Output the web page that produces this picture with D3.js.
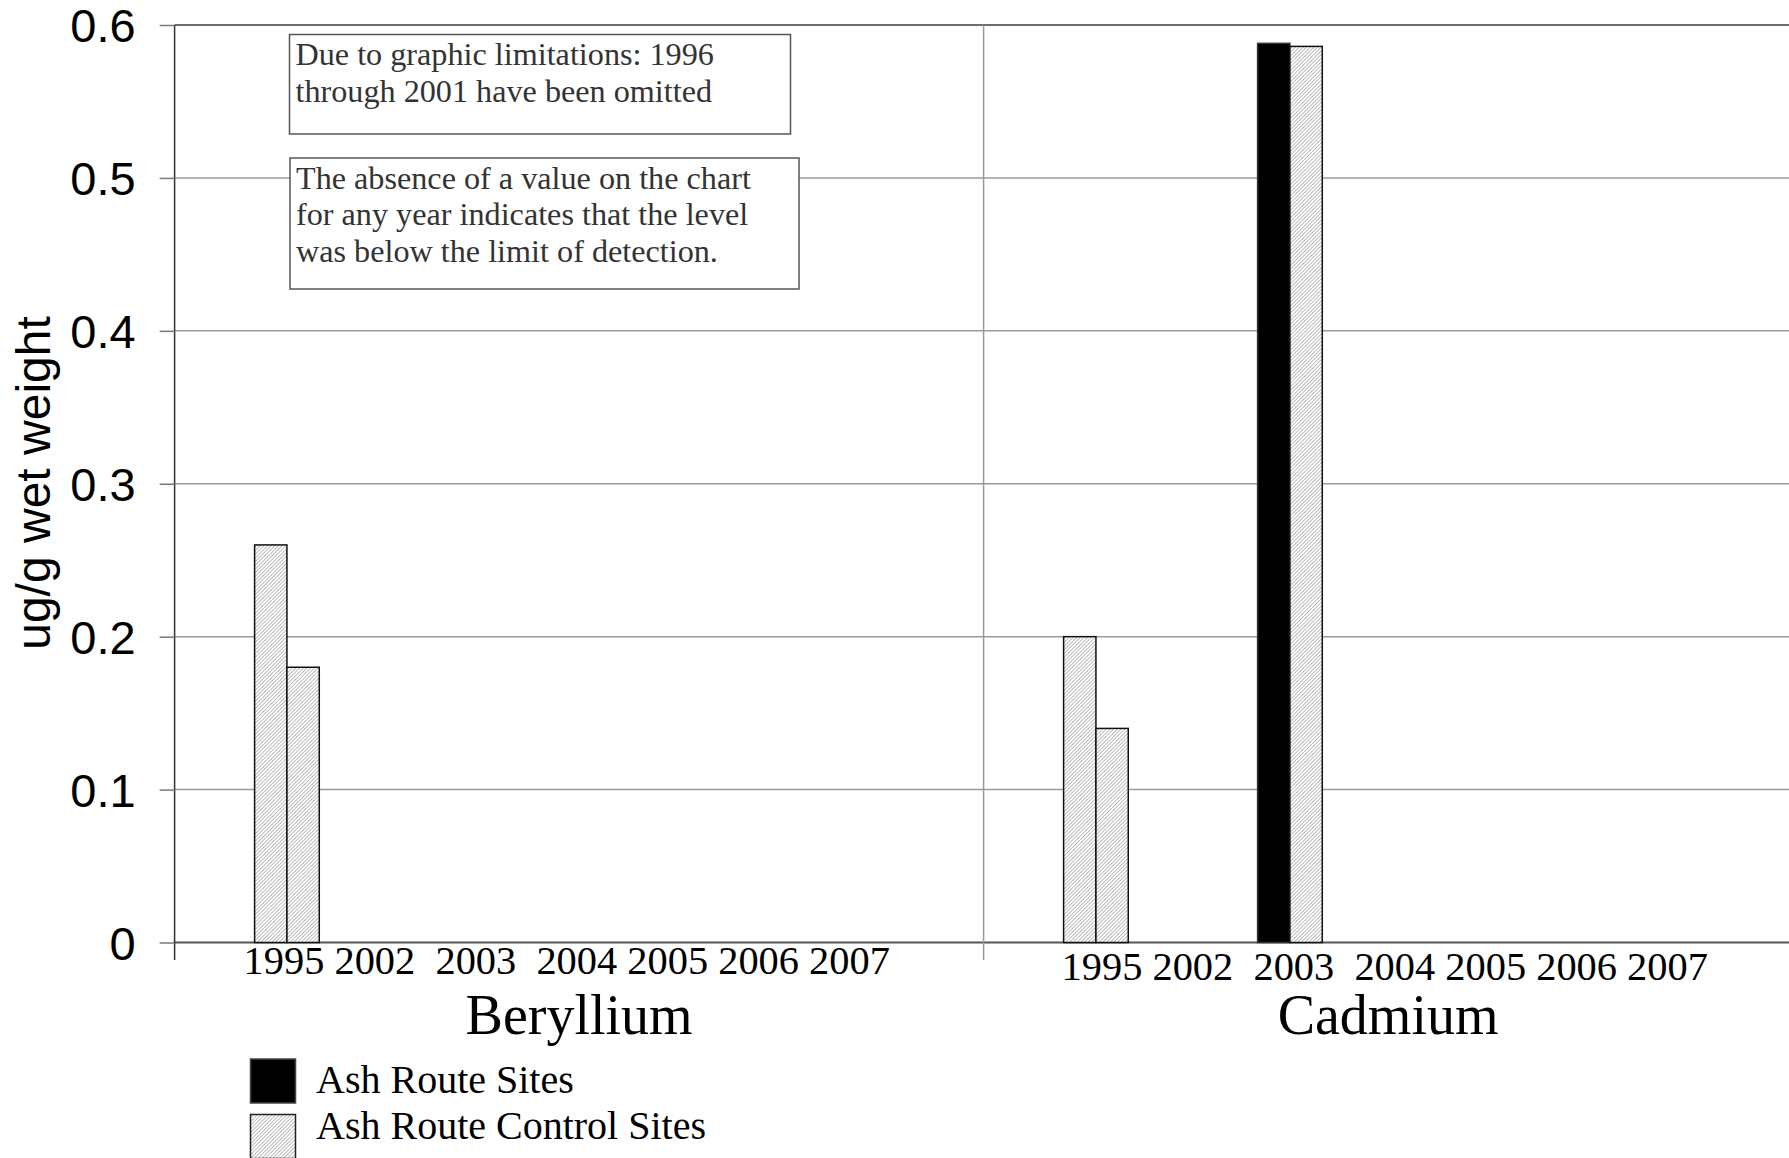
<!DOCTYPE html>
<html>
<head>
<meta charset="utf-8">
<script src="https://cdn.jsdelivr.net/npm/d3@7"></script>
<style>
  html, body { margin: 0; padding: 0; background: #fff; }
  svg { display: block; }
  .serif { font-family: "Liberation Serif", "Times New Roman", serif; }
  .sans { font-family: "Liberation Sans", Arial, sans-serif; }
</style>
</head>
<body>
<div id="chart"></div>
<script>
// ---------------- data ----------------
const groups = ["Beryllium", "Cadmium"];
const years = ["1995", "2002", "2003", "2004", "2005", "2006", "2007"];
const yearSeparators = ["", " ", "  ", "  ", " ", " ", " "];
const seriesNames = ["Ash Route Sites", "Ash Route Control Sites"];

const barGroup  = ["Beryllium", "Beryllium", "Cadmium", "Cadmium", "Cadmium", "Cadmium"];
const barYear   = ["1995", "1995", "1995", "1995", "2003", "2003"];
const barSlot   = [0, 1, 0, 1, 0, 1];
const barSeries = ["Ash Route Control Sites", "Ash Route Control Sites",
                   "Ash Route Control Sites", "Ash Route Control Sites",
                   "Ash Route Sites", "Ash Route Control Sites"];
const barValues = [0.26, 0.18, 0.20, 0.14, 0.588, 0.586];

const yTicks = [0, 0.1, 0.2, 0.3, 0.4, 0.5, 0.6];
const yTitle = "ug/g wet weight";
const note1 = ["Due to graphic limitations: 1996", "through 2001 have been omitted"];
const note2 = ["The absence of a value on the chart", "for any year indicates that the level", "was below the limit of detection."];

// ---------------- layout ----------------
const W = 1789, H = 1158;
const plotLeft = 174.6, groupW = 809, plotTop = 25, plotBottom = 942.5;

const svg = d3.select("#chart").append("svg")
  .attr("width", W).attr("height", H)
  .attr("viewBox", `0 0 ${W} ${H}`);

svg.append("rect").attr("width", W).attr("height", H).attr("fill", "#fff");

const defs = svg.append("defs");
const pat = defs.append("pattern")
  .attr("id", "hatch").attr("patternUnits", "userSpaceOnUse")
  .attr("width", 2.6).attr("height", 2.6)
  .attr("patternTransform", "rotate(45)");
pat.append("rect").attr("width", 2.6).attr("height", 2.6).attr("fill", "#fff");
pat.append("line").attr("x1", 0.4).attr("y1", 0).attr("x2", 0.4).attr("y2", 2.6)
  .attr("stroke", "#a8a8a8").attr("stroke-width", 0.8);

const fillFor = s => s === "Ash Route Sites" ? "#000" : "url(#hatch)";

const y = d3.scaleLinear().domain([0, 0.6]).range([plotBottom, plotTop]);
const xGroup = d3.scaleBand().domain(groups).range([plotLeft, plotLeft + groupW * groups.length]).padding(0);
const xYear = d3.scaleBand().domain(years).range([80, 80 + 97 * years.length]).padding(0);
const xSlot = d3.scaleBand().domain([0, 1, 2]).range([0, xYear.bandwidth()]).padding(0);

// gridlines
svg.append("g").selectAll("line").data(yTicks).join("line")
  .attr("x1", plotLeft).attr("x2", W + 10)
  .attr("y1", d => y(d)).attr("y2", d => y(d))
  .attr("stroke", d => d === 0 ? "#555" : (d === 0.6 ? "#6e6e6e" : "#9a9a9a"))
  .attr("stroke-width", d => d === 0 || d === 0.6 ? 2 : 1.5);

// group separators
const sepX = groups.map(g => xGroup(g)).concat([xGroup(groups[groups.length - 1]) + xGroup.bandwidth()]);
svg.append("g").selectAll("line").data(sepX).join("line")
  .attr("x1", d => d).attr("x2", d => d)
  .attr("y1", plotTop).attr("y2", 960)
  .attr("stroke", (d, i) => i === 0 ? "#333" : "#9a9a9a")
  .attr("stroke-width", 1.5);

// y axis
const yAxis = d3.axisLeft(y).tickValues(yTicks).tickSize(15).tickPadding(24)
  .tickFormat(d => d === 0 ? "0" : d3.format(".1f")(d));
const gy = svg.append("g").attr("transform", `translate(${plotLeft},0)`).call(yAxis);
gy.select(".domain").remove();
gy.selectAll(".tick line").attr("stroke", "#7a7a7a").attr("stroke-width", 1.5);
gy.selectAll(".tick text").attr("class", "sans").attr("font-size", 47)
  .attr("fill", "#000").attr("dy", "0.36em");

// y title
svg.append("text").attr("class", "sans")
  .attr("transform", `translate(50,483) rotate(-90)`)
  .attr("text-anchor", "middle").attr("font-size", 48).attr("fill", "#000")
  .text(yTitle);

// bars
const bars = barValues.map((v, i) => ({ g: barGroup[i], yr: barYear[i], slot: barSlot[i], s: barSeries[i], v }));
svg.append("g").selectAll("rect").data(bars).join("rect")
  .attr("x", d => xGroup(d.g) + xYear(d.yr) + xSlot(d.slot))
  .attr("width", xSlot.bandwidth())
  .attr("y", d => y(d.v))
  .attr("height", d => y(0) - y(d.v))
  .attr("fill", d => fillFor(d.s))
  .attr("stroke", d => d.s === "Ash Route Sites" ? "#333" : "#111")
  .attr("stroke-width", 1.5);

// year labels (one text run per group)
const yearLabelOffset = { Beryllium: 69, Cadmium: 78 };
const yearLabelBaseline = { Beryllium: 974, Cadmium: 980 };
svg.append("g").selectAll("text").data(groups).join("text")
  .attr("class", "serif")
  .attr("x", g => xGroup(g) + yearLabelOffset[g])
  .attr("y", g => yearLabelBaseline[g])
  .attr("font-size", 40.4).attr("fill", "#000")
  .style("white-space", "pre")
  .text(() => years.map((yr, i) => yearSeparators[i] + yr).join(""));

// group titles
svg.append("g").selectAll("text").data(groups).join("text")
  .attr("class", "serif")
  .attr("x", g => xGroup(g) + xGroup.bandwidth() / 2)
  .attr("y", 1034)
  .attr("text-anchor", "middle").attr("font-size", 56).attr("fill", "#000")
  .text(g => g);

// note boxes
function noteBox(x, yTop, w, h, lines, firstBaseline) {
  const g = svg.append("g");
  g.append("rect").attr("x", x).attr("y", yTop).attr("width", w).attr("height", h)
    .attr("fill", "#fff").attr("stroke", "#555").attr("stroke-width", 1.5);
  g.selectAll("text").data(lines).join("text")
    .attr("class", "serif")
    .attr("x", x + 6).attr("y", (d, i) => firstBaseline + i * 36.8)
    .attr("font-size", 32.2).attr("fill", "#333")
    .text(d => d);
}
noteBox(289.5, 34.5, 501, 99.5, note1, 65);
noteBox(290, 158, 509, 131, note2, 188.5);

// legend
const lg = svg.append("g");
const legendRows = lg.selectAll("g").data(seriesNames).join("g");
legendRows.append("rect")
  .attr("x", 250.5).attr("y", (d, i) => i === 0 ? 1059 : 1114.5)
  .attr("width", 45).attr("height", 44)
  .attr("fill", d => fillFor(d))
  .attr("stroke", d => d === "Ash Route Sites" ? "#444" : "#222").attr("stroke-width", 1.5);
legendRows.append("text").attr("class", "serif")
  .attr("x", 316).attr("y", (d, i) => i === 0 ? 1093 : 1138.5)
  .attr("font-size", 40).attr("fill", "#000")
  .text(d => d);
</script>
</body>
</html>
